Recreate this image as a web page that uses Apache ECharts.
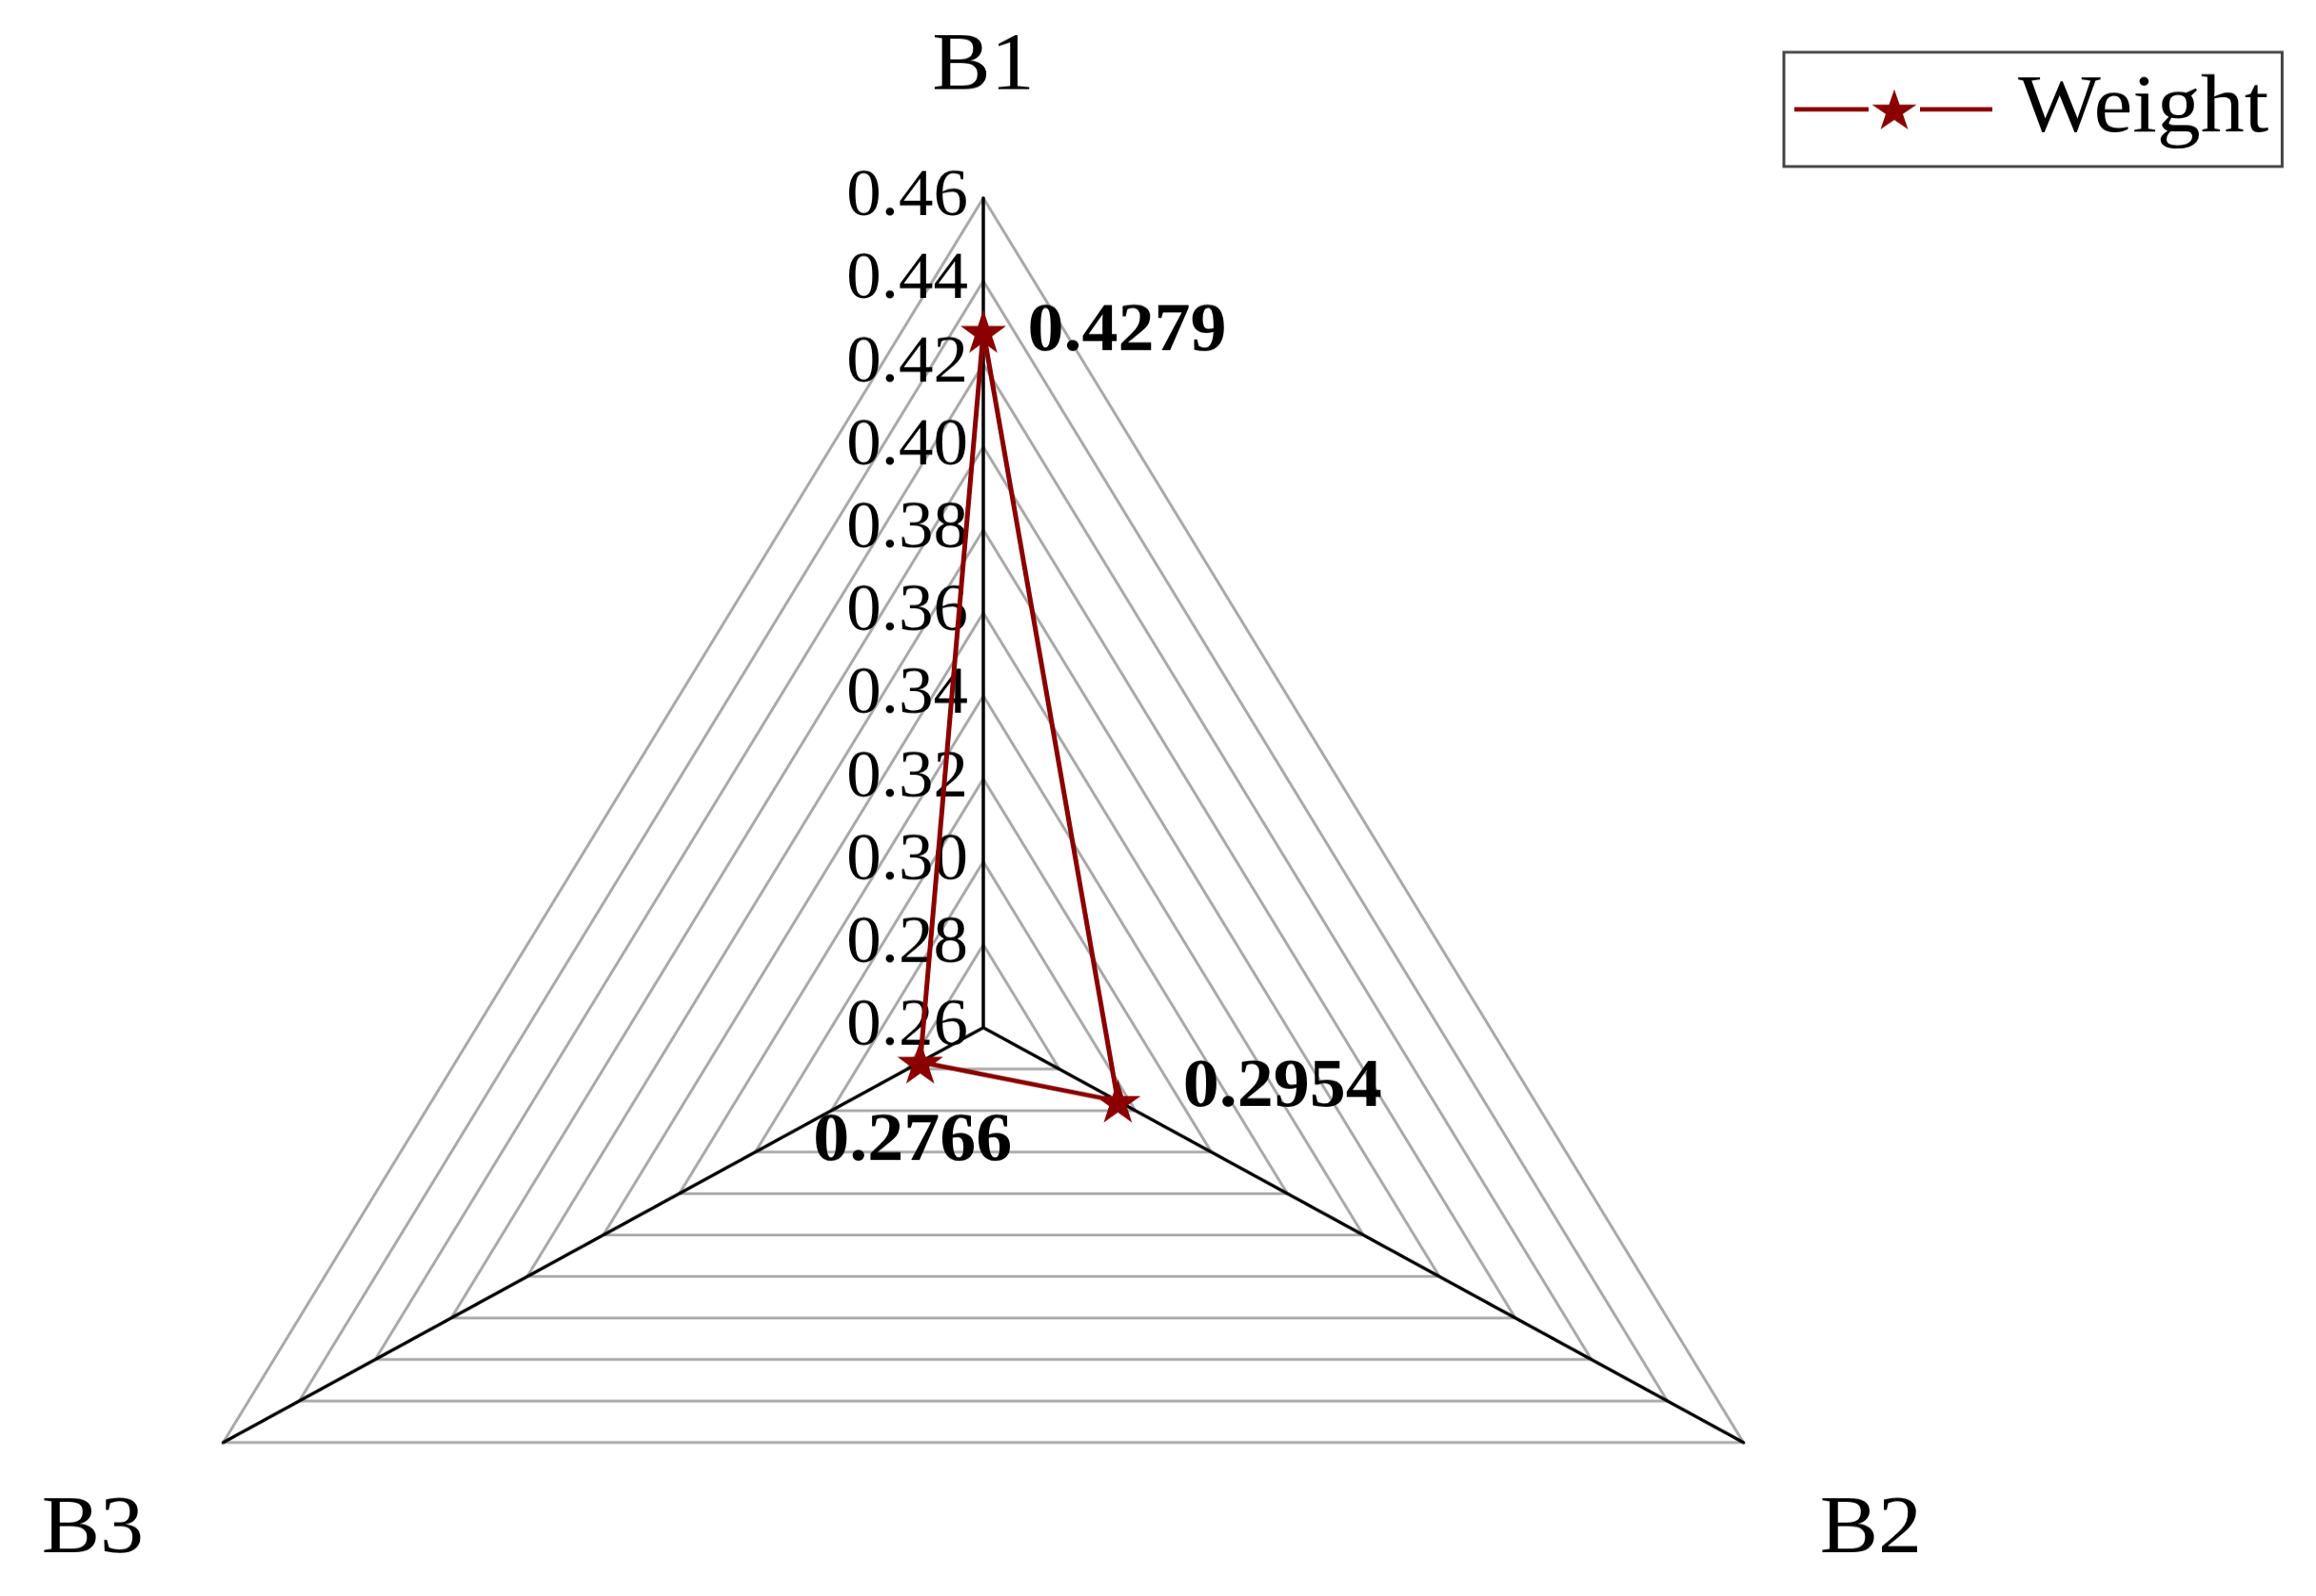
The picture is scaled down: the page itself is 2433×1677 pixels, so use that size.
<!DOCTYPE html>
<html>
<head>
<meta charset="utf-8">
<title>Weight radar</title>
<script src="https://cdn.jsdelivr.net/npm/echarts@6/dist/echarts.min.js"></script>
<style>
  html, body { margin: 0; padding: 0; background: #fff; overflow: hidden; }
  /* the source picture is squashed vertically, so the chart is drawn taller and scaled down */
  #chart { width: 2433px; height: 1774px; transform: scaleY(0.9455); transform-origin: 0 0; }
</style>
</head>
<body>
<div id="chart"></div>
<script>
const indicatorNames = ["B1", "B2", "B3"];
const weightValues = [0.4279, 0.2954, 0.2766];
const seriesName = "Weight";
const axisMin = 0.26;
const axisMax = 0.46;
const splitCount = 10;

// echarts lays radar axes out counter-clockwise, B2 has to end up at the lower right
const drawOrder = [0, 2, 1];

const FONT = "'Liberation Serif', 'Times New Roman', serif";
const RED = "#8b0000";

// five-point star used as the marker
const STAR =
  "path://M0,-100L22.5,-30.9L95.1,-30.9L36.3,11.8L58.8,80.9L0,38.2L-58.8,80.9L-36.3,11.8L-95.1,-30.9L-22.5,-30.9Z";
// legend glyph: line - star - line
const LEGEND_ICON =
  "path://M0,19.8L78,19.8L78,24.8L0,24.8Z" +
  "M81.51,17.07L99.46,17.07L105,0L110.54,17.07L128.49,17.07L113.97,27.61L119.52,44.68L105,34.13L90.48,44.68L96.03,27.61Z" +
  "M132,19.8L208,19.8L208,24.8L132,24.8Z";

// name placement around each corner (B1, B2, B3)
const nameGaps = [99, 92.6, 96.4];
const nameAligns = [
  {},
  { align: "left", verticalAlign: "top", padding: [6, 0, 0, 0] },
  { align: "right", verticalAlign: "top", padding: [4, 0, 0, 0] },
];
// value label shift from the marker centre (dx, dy), B1, B2, B3
const labelShift = [
  [151, 1],
  [173, -14],
  [-8, 89],
];

const rich = {};
labelShift.forEach(([dx, dy], i) => {
  rich["v" + i] = {
    fontSize: 76,
    fontWeight: "bold",
    fontFamily: FONT,
    color: "#000",
    padding: [Math.max(0, 2 * dy), Math.max(0, -2 * dx), Math.max(0, -2 * dy), Math.max(0, 2 * dx)],
  };
});

const indicators = drawOrder.map((i) => ({
  name: indicatorNames[i],
  min: axisMin,
  max: axisMax,
  nameGap: nameGaps[i],
  nameTextStyle: nameAligns[i],
  axisLabel:
    i === 0
      ? {
          show: true,
          fontSize: 73,
          fontFamily: FONT,
          color: "#000",
          margin: 16,
          formatter: (v) => Number(v).toFixed(2),
        }
      : { show: false },
}));

const chart = echarts.init(document.getElementById("chart"));

chart.setOption({
  backgroundColor: "#fff",
  animation: false,
  textStyle: { fontFamily: FONT },
  legend: {
    data: [seriesName],
    left: 1874,
    top: 58,
    padding: [15.5, 14, 15.5, 11],
    borderColor: "#444",
    borderWidth: 3,
    itemWidth: 208,
    itemHeight: 45,
    icon: LEGEND_ICON,
    itemStyle: { color: RED, borderWidth: 0 },
    textStyle: {
      fontSize: 92,
      fontFamily: FONT,
      color: "#000",
      lineHeight: 96,
      padding: [0, 0, 0, 22],
    },
  },
  radar: {
    center: [1033, 1142],
    radius: 922,
    startAngle: 90,
    shape: "polygon",
    splitNumber: splitCount,
    indicator: indicators,
    axisName: { color: "#000", fontSize: 92, fontFamily: FONT },
    axisLine: { lineStyle: { color: "#000", width: 3.5 } },
    splitLine: { lineStyle: { color: "#a8a8a8", width: 3 } },
    splitArea: { show: false },
    axisTick: { show: false },
    axisLabel: { show: false },
  },
  series: [
    {
      type: "radar",
      symbol: STAR,
      symbolSize: [48, 48],
      lineStyle: { color: RED, width: 5 },
      itemStyle: { color: RED },
      label: {
        show: true,
        position: "inside",
        formatter: (p) => {
          const i = weightValues.indexOf(p.value);
          return "{v" + i + "|" + Number(p.value).toFixed(4) + "}";
        },
        rich,
      },
      data: [{ name: seriesName, value: drawOrder.map((i) => weightValues[i]) }],
    },
  ],
});
</script>
</body>
</html>
